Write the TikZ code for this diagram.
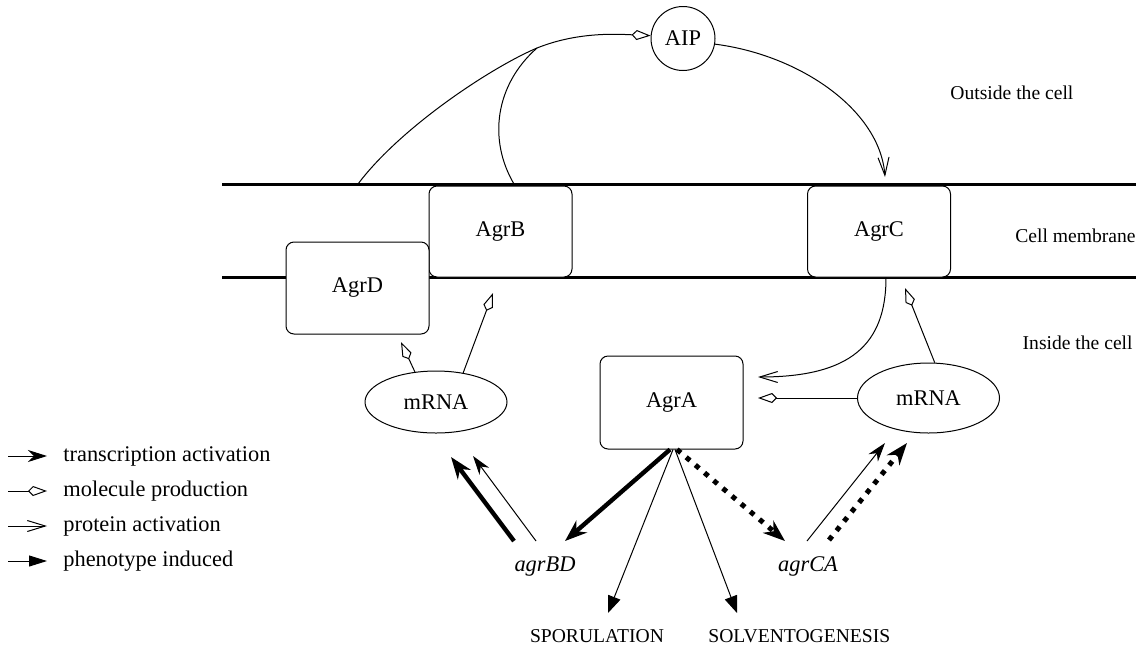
\documentclass[tikz,border=0pt]{standalone}
\usepackage{fontspec}
\setmainfont{Liberation Serif}
\usetikzlibrary{arrows.meta,shapes.geometric,calc}
\begin{document}
\begin{tikzpicture}[x=0.5pt,y=-0.5pt,
  font=\fontsize{11.2}{13}\selectfont,
  protbox/.style={draw, rounded corners=4pt, fill=white, line width=0.5pt, minimum width=71.5pt, minimum height=45.5pt, inner sep=0pt},
  oval/.style={draw, ellipse, fill=white, line width=0.5pt, minimum width=71pt, minimum height=31pt, inner sep=0pt},
  thinline/.style={line width=0.5pt},
  memb/.style={line width=1.5pt},
  prod/.style={thinline, -{Kite[open,length=9.5pt,width=5pt,inset=2.5pt]}},
  prot/.style={thinline, -{Straight Barb[length=9pt,width=5.5pt]}},
  trans/.style={thinline, -{Stealth[length=9.5pt,width=6pt,inset=3pt]}},
  transthick/.style={line width=2.2pt, -{Stealth[length=11pt,width=8pt,inset=3.5pt]}},
  pheno/.style={thinline, -{Triangle[length=8.5pt,width=6.5pt]}},
  dotline/.style={line width=2.5pt, dash pattern=on 2.5pt off 3.5pt, -{Stealth[length=11pt,width=8pt,inset=3.5pt]}},
  txt/.style={inner sep=0pt},
  lbl/.style={inner sep=0pt, font=\fontsize{9.8}{12}\selectfont},
]
\useasboundingbox (0,0) rectangle (1146,649);

% membrane
\coordinate (mTL) at (222,184);
\coordinate (mTR) at (1136,184);
\coordinate (mBL) at (222,277);
\coordinate (mBR) at (1136,277);
\draw[memb] (mTL) -- (mTR);
\draw[memb] (mBL) -- (mBR);

% nodes
\node[protbox] (AgrB) at (500.5,231.5) {AgrB};
\node[protbox, minimum height=46pt] (AgrD) at (357.5,288) {AgrD};
\node[protbox] (AgrC) at (879,231.5) {AgrC};
\node[protbox, minimum height=46.5pt] (AgrA) at (671.5,402.5) {AgrA};
\node[oval] (mL) at (436,402) {mRNA};
\node[oval, minimum height=35pt] (mR) at (928.5,398) {mRNA};
\node[draw, circle, thinline, minimum size=32pt, inner sep=0pt] (AIP) at (683,38.5) {AIP};

\node[txt, anchor=base] (agrBD) at (545,571) {\itshape agrBD};
\node[txt, anchor=base] (agrCA) at (808,571) {\itshape agrCA};
\node[lbl, anchor=base] (spo) at (597,642) {SPORULATION};
\node[lbl, anchor=base west] (sol) at (708,642) {SOLVENTOGENESIS};

\node[lbl, anchor=base west] (out) at (950,99) {Outside the cell};
\node[lbl, anchor=base east] (mem) at (1136,242) {Cell membrane};
\node[lbl, anchor=base east] (ins) at (1133,349) {Inside the cell};

% outside curves
\coordinate (s1) at (358,184);
\coordinate (s2) at (514,184);
\coordinate (j) at (537,48);
\draw[prod] (s1) .. controls (400,128) and (490,68) .. (j) .. controls (577,32) and (615,34) .. (AIP.175);
\draw[thinline] (s2) .. controls (488,140) and (495,85) .. (j);

\coordinate (cAC) at (885,177);
\draw[prot] (AIP.350) .. controls (800,55) and (880,110) .. (cAC);

% inside
\coordinate (cCA) at (758,377);
\draw[prot] ([xshift=3.5pt]AgrC.south) .. controls (886,345) and (850,377) .. (cCA);
\coordinate (cRA) at (758,398);
\draw[prod] (mR.west) -- (cRA);
\coordinate (cRC) at (905,288);
\draw[prod] (mR.80) -- (cRC);
\coordinate (cLD) at (401,342);
\draw[prod] (mL.125) -- (cLD);
\coordinate (cLB) at (493,293);
\draw[prod] (mL.47) -- (cLB);

% from AgrA
\coordinate (tBD) at (565,541);
\coordinate (tSP) at (608,613);
\coordinate (tSO) at (737,613);
\coordinate (tCA) at (785,541);
\draw[transthick] ([xshift=-0.75pt]AgrA.south) -- (tBD);
\draw[pheno] ([xshift=0.75pt]AgrA.south) -- (tSP);
\draw[pheno] ([xshift=1.75pt]AgrA.south) -- (tSO);
\draw[dotline] ([xshift=2.75pt]AgrA.south) -- (tCA);

% from genes
\coordinate (bd1) at (514,541);
\coordinate (bd2) at (536,541);
\coordinate (hL1) at (451,457);
\coordinate (hL2) at (473,456);
\draw[transthick] (bd1) -- (hL1);
\draw[trans] (bd2) -- (hL2);
\coordinate (ca1) at (807,541);
\coordinate (ca2) at (829,540);
\coordinate (hR1) at (885,443);
\coordinate (hR2) at (907,443);
\draw[trans] (ca1) -- (hR1);
\draw[dotline] (ca2) -- (hR2);

% legend
\node[txt, anchor=base west] (leg1) at (63,461.5) {transcription activation};
\node[txt, anchor=base west] (leg2) at (63,496.5) {molecule production};
\node[txt, anchor=base west] (leg3) at (63,531.5) {protein activation};
\node[txt, anchor=base west] (leg4) at (63,566.5) {phenotype induced};
\draw[trans] ($(leg1.base west)+(-55,-5.5)$) -- ($(leg1.base west)+(-16,-5.5)$);
\draw[prod] ($(leg2.base west)+(-55,-5.5)$) -- ($(leg2.base west)+(-16,-5.5)$);
\draw[prot] ($(leg3.base west)+(-55,-5.5)$) -- ($(leg3.base west)+(-16,-5.5)$);
\draw[thinline, -{Triangle[length=9pt,width=5.5pt]}] ($(leg4.base west)+(-55,-5.5)$) -- ($(leg4.base west)+(-16,-5.5)$);
\end{tikzpicture}
\end{document}
